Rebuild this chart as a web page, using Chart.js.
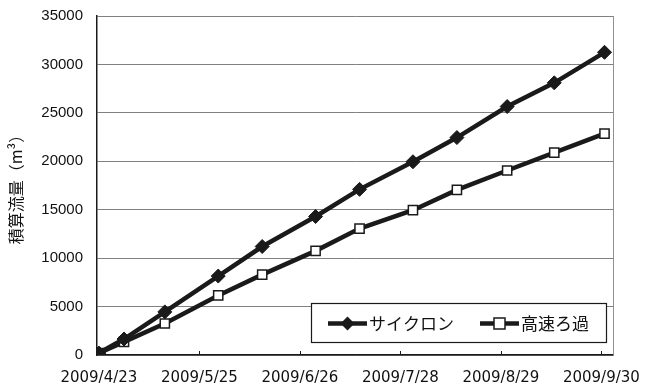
<!DOCTYPE html>
<html>
<head>
<meta charset="utf-8">
<script src="https://cdn.jsdelivr.net/npm/chart.js@4.4.1/dist/chart.umd.min.js"></script>
<style>
  html, body { margin: 0; padding: 0; background: #fff; }
  #wrap { width: 656px; height: 388px; }
</style>
</head>
<body>
<div id="wrap"><canvas id="chart"></canvas></div>
<script>
// sampling dates and cumulative flow (m3)
var dates = ['2009/4/23', '2009/5/1', '2009/5/14', '2009/5/31', '2009/6/14', '2009/7/1',
  '2009/7/15', '2009/8/1', '2009/8/15', '2009/8/31', '2009/9/15', '2009/10/1'];
var cyclone = [200, 1650, 4450, 8150, 11200, 14300, 17100, 19950, 22450, 25650, 28100, 31250];
var rapidFilter = [200, 1350, 3250, 6150, 8300, 10750, 13050, 14950, 17050, 19050, 20900, 22850];
var tickDates = ['2009/4/23', '2009/5/25', '2009/6/26', '2009/7/28', '2009/8/29', '2009/9/30'];
var seriesNames = ['サイクロン', '高速ろ過'];

var DAY = 86400000;
function toDate(s) {
  var p = s.split('/');
  return Date.UTC(+p[0], +p[1] - 1, +p[2]);
}
var start = toDate(dates[0]);
function dayOf(s) {
  return Math.round((toDate(s) - start) / DAY);
}
function labelOf(d) {
  var t = new Date(start + d * DAY);
  return t.getUTCFullYear() + '/' + (t.getUTCMonth() + 1) + '/' + t.getUTCDate();
}
function points(vals) {
  return vals.map(function (v, i) { return { x: dayOf(dates[i]), y: v }; });
}

var ink = '#1a1a1a';

// inner tick marks, right border and the legend box inside the plot
var decor = {
  id: 'decor',
  afterDatasetsDraw: function (chart) {
    var ctx = chart.ctx;
    var a = chart.chartArea;
    var xs = chart.scales.x;
    ctx.save();
    ctx.strokeStyle = '#909090';
    ctx.lineWidth = 1;
    ctx.beginPath();
    ctx.moveTo(a.right + 0.5, a.top);
    ctx.lineTo(a.right + 0.5, a.bottom);
    ctx.stroke();

    ctx.strokeStyle = ink;
    ctx.beginPath();
    tickDates.forEach(function (t) {
      var px = Math.round(xs.getPixelForValue(dayOf(t))) + 0.5;
      ctx.moveTo(px, a.bottom);
      ctx.lineTo(px, a.bottom - 4);
    });
    ctx.stroke();

    // legend
    var bx = 311, by = 303, bw = 295, bh = 39;
    ctx.fillStyle = '#fff';
    ctx.fillRect(bx, by, bw, bh);
    ctx.strokeStyle = ink;
    ctx.lineWidth = 1.2;
    ctx.strokeRect(bx + 0.5, by + 0.5, bw, bh);
    var cy = by + bh / 2 + 1;
    var items = [{ x0: 328, ds: 0 }, { x0: 480, ds: 1 }];
    ctx.font = '17px "Noto Sans CJK JP"';
    ctx.textBaseline = 'middle';
    items.forEach(function (it) {
      var ds = chart.data.datasets[it.ds];
      ctx.strokeStyle = ds.borderColor;
      ctx.lineWidth = ds.borderWidth;
      ctx.beginPath();
      ctx.moveTo(it.x0, cy);
      ctx.lineTo(it.x0 + 39, cy);
      ctx.stroke();
      var mx = it.x0 + 19.5;
      ctx.lineWidth = 1.5;
      ctx.fillStyle = ds.pointBackgroundColor;
      ctx.strokeStyle = ds.pointBorderColor;
      if (ds.pointStyle === 'rectRot') {
        ctx.beginPath();
        ctx.moveTo(mx, cy - 7);
        ctx.lineTo(mx + 7, cy);
        ctx.lineTo(mx, cy + 7);
        ctx.lineTo(mx - 7, cy);
        ctx.closePath();
        ctx.fill();
      } else {
        ctx.fillRect(mx - 5.5, cy - 5.5, 11, 11);
        ctx.strokeRect(mx - 5.5, cy - 5.5, 11, 11);
      }
      ctx.fillStyle = '#111';
      ctx.fillText(ds.label, it.x0 + 41, cy);
    });
    ctx.restore();
  }
};

new Chart(document.getElementById('chart'), {
  type: 'line',
  data: {
    datasets: [
      {
        label: seriesNames[0],
        data: points(cyclone),
        borderColor: ink,
        borderWidth: 4.5,
        pointStyle: 'rectRot',
        pointRadius: 7,
        pointBackgroundColor: ink,
        pointBorderColor: ink,
        pointBorderWidth: 1
      },
      {
        label: seriesNames[1],
        data: points(rapidFilter),
        borderColor: ink,
        borderWidth: 4.5,
        pointStyle: 'rect',
        pointRadius: 6.5,
        pointBackgroundColor: '#fff',
        pointBorderColor: ink,
        pointBorderWidth: 1.5
      }
    ]
  },
  options: {
    responsive: true,
    maintainAspectRatio: false,
    animation: false,
    layout: { padding: { left: 0, right: 43, top: 16, bottom: 0 } },
    plugins: {
      legend: { display: false },
      tooltip: { enabled: false }
    },
    scales: {
      x: {
        type: 'linear',
        min: -0.6,
        max: 163.7,
        afterBuildTicks: function (scale) {
          scale.ticks = tickDates.map(function (t) { return { value: dayOf(t) }; });
        },
        afterFit: function (scale) {
          scale.height = 33;
          scale.paddingLeft = 0;
          scale.paddingRight = 0;
        },
        grid: { drawOnChartArea: false, drawTicks: false },
        border: { color: ink, width: 1.5 },
        ticks: {
          padding: 14,
          color: '#111',
          font: { family: 'DejaVu Sans', size: 15 },
          callback: function (v) { return labelOf(v); },
          maxRotation: 0,
          autoSkip: false
        }
      },
      y: {
        min: 0,
        max: 35000,
        afterFit: function (scale) {
          scale.width = 97;
          scale.paddingTop = 0;
          scale.paddingBottom = 0;
        },
        grid: { color: '#808080', lineWidth: 1, drawTicks: false },
        border: { color: ink, width: 1.5 },
        ticks: {
          stepSize: 5000,
          padding: 14,
          color: '#111',
          font: { family: 'Liberation Sans', size: 15 },
          callback: function (v) { return String(v); }
        },
        title: {
          display: true,
          text: '積算流量（m³）',
          color: '#111',
          font: { family: 'Noto Sans CJK JP', size: 16 },
          padding: { top: 6, bottom: 0 }
        }
      }
    }
  },
  plugins: [decor]
});
</script>
</body>
</html>
